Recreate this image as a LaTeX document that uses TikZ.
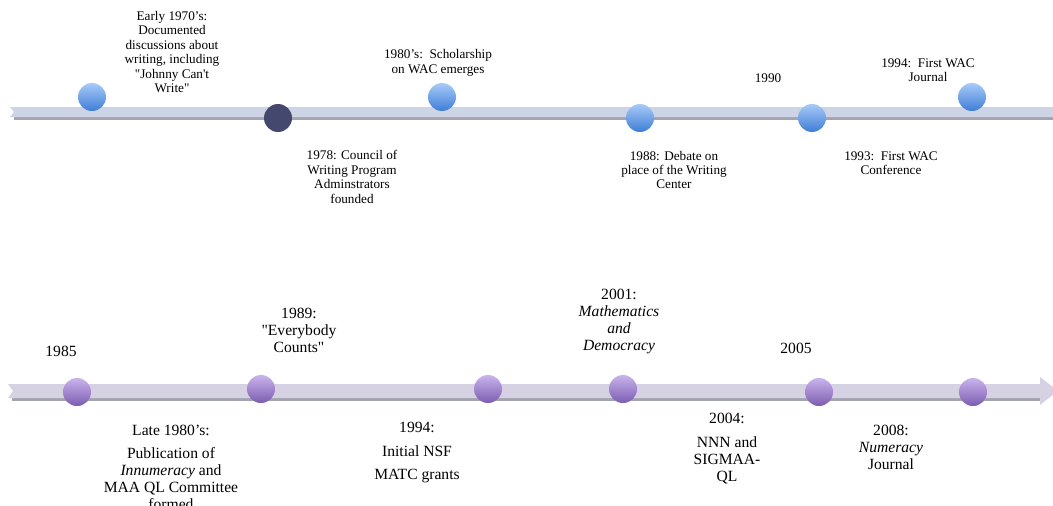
\documentclass[tikz,border=0pt]{standalone}
\usepackage{fontspec}
\setmainfont{Liberation Serif}[Ligatures = TeXOff]

\definecolor{wacbar}{HTML}{CCD4E6}
\definecolor{qlbar}{HTML}{D6D1E3}
\definecolor{barshade}{HTML}{A2A4AE}
\definecolor{wactop}{HTML}{A8CAF8}
\definecolor{wacbottom}{HTML}{3E7ED6}
\definecolor{cwpa}{HTML}{44486F}
\definecolor{qltop}{HTML}{C9B3EC}
\definecolor{qlbottom}{HTML}{7C5DB1}

\begin{document}
\begin{tikzpicture}[x = 1pt, y = -1pt,
    wacdot/.style = {shape = circle, inner sep = 0pt, minimum size = 28pt,
        top color = wactop, bottom color = wacbottom},
    cwpadot/.style = {shape = circle, inner sep = 0pt, minimum size = 28pt,
        fill = cwpa},
    qldot/.style = {shape = circle, inner sep = 0pt, minimum size = 28pt,
        top color = qltop, bottom color = qlbottom},
    waclabel/.style = {align = center, inner sep = 0pt,
        font = \fontsize{13.2}{14.4}\selectfont},
    qllabel/.style = {align = center, inner sep = 0pt,
        font = \fontsize{15.6}{17}\selectfont}]
    \useasboundingbox (0,0) rectangle (1053,506);

    % WAC timeline
    \fill [barshade] (14,115) -- (1053,115) -- (1053,120) -- (14,120) -- cycle;
    \fill [wacbar] (10,107) -- (1053,107) -- (1053,117) -- (10,117) -- (14,112) -- cycle;
    \node (w1) [wacdot] at (92,97) {};
    \node (w2) [cwpadot] at (278,118) {};
    \node (w3) [wacdot] at (442,97) {};
    \node (w4) [wacdot] at (640,118) {};
    \node (w5) [wacdot] at (812,118) {};
    \node (w6) [wacdot] at (972,97) {};
    \node (t1) [waclabel] at (172,52) {Early 1970’s:\\Documented\\discussions about\\writing, including\\"Johnny Can't\\Write"};
    \node (t2) [waclabel] at (352,177) {1978: Council of\\Writing Program\\Adminstrators\\founded};
    \node (t3) [waclabel] at (438,63) {1980’s:\ \ Scholarship\\on WAC emerges};
    \node (t4) [waclabel] at (674,170) {1988: Debate on\\place of the Writing\\Center};
    \node (t5) [waclabel] at (768,78) {1990};
    \node (t6) [waclabel] at (891,163) {1993:\ \ First WAC\\Conference};
    \node (t7) [waclabel] at (928,70) {1994:\ \ First WAC\\Journal};

    % QL timeline
    \fill [barshade] (12,396) -- (1040,396) -- (1040,401) -- (12,401) -- cycle;
    \fill [qlbar] (8,384) -- (1040,384) -- (1040,377) -- (1058,391) -- (1040,405)
        -- (1040,398) -- (8,398) -- (13,391) -- cycle;
    \node (q1) [qldot] at (77,392) {};
    \node (q2) [qldot] at (261,389) {};
    \node (q3) [qldot] at (488,389) {};
    \node (q4) [qldot] at (623,389) {};
    \node (q5) [qldot] at (819,392) {};
    \node (q6) [qldot] at (973,392) {};
    \node (s1) [qllabel] at (61,351) {1985};
    \node (s2) [qllabel] at (299,330) {1989:\\"Everybody\\Counts"};
    \node (s3) [qllabel] at (619,321) {2001:\\\textit{Mathematics}\\\textit{and}\\\textit{Democracy}};
    \node (s4) [qllabel] at (796,348) {2005};
    \node (s5) [qllabel] at (171,467) {Late 1980’s:\\[6pt]Publication of\\\textit{Innumeracy} and\\MAA QL Committee\\formed};
    \node (s6) [qllabel] at (417,453) {1994:\\[7pt]Initial NSF\\[6pt]MATC grants};
    \node (s7) [qllabel] at (727,449) {2004:\\[7pt]NNN and\\SIGMAA-\\QL};
    \node (s8) [qllabel] at (891,447) {2008:\\\textit{Numeracy}\\Journal};
\end{tikzpicture}
\end{document}
